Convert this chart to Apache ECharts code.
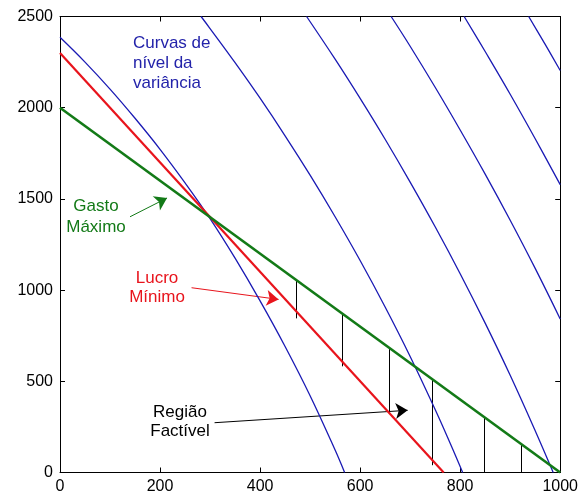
<!DOCTYPE html>
<html>
<head>
<meta charset="utf-8">
<script src="https://cdn.jsdelivr.net/npm/echarts@6/dist/echarts.min.js"></script>
<style>
html,body{margin:0;padding:0;background:#fff}
#chart{width:581px;height:495px}
</style>
</head>
<body>
<div id="chart"></div>
<script>
// restricoes (retas)
var gastoMaximo = [[0, 2000], [1000, 0]];
var lucroMinimo = [[0, 2300], [767, 0]];

// curvas de nivel da variancia
var curva1 = [[0,2386],[50,2250],[100,2102],[150,1942],[200,1772],[250,1588],[300,1392],[350,1175],[400,941],[450,691],[500,421],[550,123],[569,0]];
var curva2 = [[282,2500],[300,2434],[350,2247],[400,2052],[450,1846],[500,1630],[550,1402],[600,1162],[650,907],[700,636],[750,345],[780,160],[805,0]];
var curva3 = [[493,2500],[550,2266],[600,2051],[650,1827],[700,1592],[750,1347],[800,1090],[850,819],[900,533],[950,229],[986,0]];
var curva4 = [[662,2500],[700,2337],[750,2112],[800,1878],[850,1636],[900,1383],[950,1119],[1000,842]];
var curva5 = [[808,2500],[850,2308],[900,2074],[950,1830],[1000,1578]];
var curva6 = [[937,2500],[970,2347],[1000,2204]];
var curvas = [curva1, curva2, curva3, curva4, curva5, curva6];

// hachuras da regiao factivel
var hachuraX = [472, 564, 659, 745, 849, 923];
var hachuraTopo = [1056, 872, 682, 510, 302, 154];
var hachuraBase = [845, 582, 325, 40, 0, 0];

var azul = '#1a1ab4';
var verde = '#137a17';
var vermelho = '#e8141c';
var fonte = '"Liberation Sans", Arial, sans-serif';

var myChart = echarts.init(document.getElementById('chart'));

function semMilhar(v){ return String(v); }

function eixoX(pos, labels){
	return {
		type:'value', min:0, max:1000, interval:200, position:pos,
		axisLine:{show:true, onZero:false, lineStyle:{color:'#000', width:1}},
		axisTick:{show:true, inside:true, length:5, lineStyle:{color:'#000'}},
		axisLabel:{show:labels, color:'#000', fontSize:16, fontFamily:fonte, margin:6, formatter:semMilhar},
		splitLine:{show:false}
	};
}
function eixoY(pos, labels){
	return {
		type:'value', min:0, max:2500, interval:500, position:pos,
		axisLine:{show:true, onZero:false, lineStyle:{color:'#000', width:1}},
		axisTick:{show:true, inside:true, length:5, lineStyle:{color:'#000'}},
		axisLabel:{show:labels, color:'#000', fontSize:16, fontFamily:fonte, margin:7, formatter:semMilhar},
		splitLine:{show:false}
	};
}

var series = [];
curvas.forEach(function(c, i){
	series.push({
		name:'curva'+(i+1), type:'line', data:c, smooth:0.4,
		showSymbol:false, clip:true,
		lineStyle:{color:azul, width:1.3}
	});
});

var hachuras = [];
for(var i=0; i<hachuraX.length; i++){
	hachuras.push({coords:[[hachuraX[i], hachuraTopo[i]], [hachuraX[i], hachuraBase[i]]]});
}
series.push({
	type:'lines', coordinateSystem:'cartesian2d', data:hachuras,
	symbol:['none','none'], lineStyle:{color:'#000', width:1, opacity:1}
});

series.push({
	name:'lucro', type:'line', data:lucroMinimo, showSymbol:false,
	lineStyle:{color:vermelho, width:2.2}
});
series.push({
	name:'gasto', type:'line', data:gastoMaximo, showSymbol:false,
	lineStyle:{color:verde, width:2.6}
});

// setas das anotacoes
function seta(p1, p2, cor){
	return {
		type:'lines', coordinateSystem:'cartesian2d',
		data:[{coords:[p1, p2]}],
		symbol:['none','arrow'], symbolSize:12,
		lineStyle:{color:cor, width:1, opacity:1}
	};
}
series.push(seta([140,1402], [214,1505], verde));
series.push(seta([263,1013], [437,949], vermelho));
series.push(seta([309,273], [695,341], '#000'));

var option = {
	animation:false,
	backgroundColor:'#fff',
	grid:{left:60, right:20, top:16.5, bottom:22.5, containLabel:false},
	xAxis:[eixoX('bottom', true), eixoX('top', false)],
	yAxis:[eixoY('left', true), eixoY('right', false)],
	series:series,
	graphic:[
		{type:'text', x:133, y:63, style:{text:'Curvas de\nnível da\nvariância', fill:'#2323aa', font:'17px '+fonte, textAlign:'left', textVerticalAlign:'middle', lineHeight:20}},
		{type:'text', x:96, y:217, style:{text:'Gasto\nMáximo', fill:verde, font:'17px '+fonte, textAlign:'center', textVerticalAlign:'middle', lineHeight:21}},
		{type:'text', x:157, y:288, style:{text:'Lucro\nMínimo', fill:vermelho, font:'17px '+fonte, textAlign:'center', textVerticalAlign:'middle', lineHeight:19.5}},
		{type:'text', x:180, y:422, style:{text:'Região\nFactível', fill:'#000', font:'17px '+fonte, textAlign:'center', textVerticalAlign:'middle', lineHeight:19}}
	]
};

myChart.setOption(option);
</script>
</body>
</html>
